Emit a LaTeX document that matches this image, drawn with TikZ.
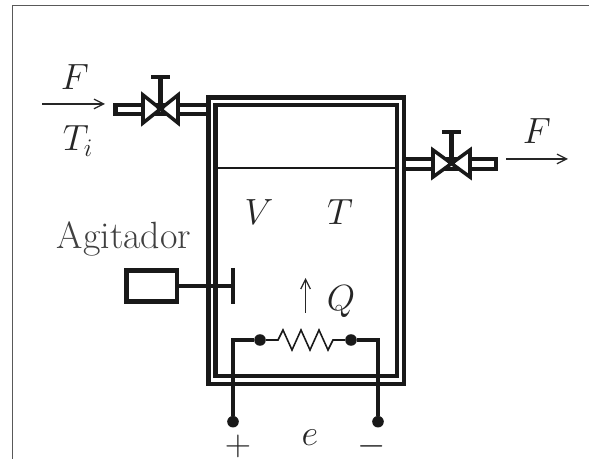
\documentclass[tikz,border=0pt]{standalone}
\usepackage{amsmath}
\usetikzlibrary{arrows.meta}

\tikzstyle{frameline}=[draw=black!65,line width=0.85pt]
\tikzstyle{wall}=[draw=black!90,line width=2.8pt,miter limit=10]
\tikzstyle{pipe}=[draw=black!90,line width=2.6pt]
\tikzstyle{valveside}=[draw=black!90,fill=white,line width=2pt,line join=miter]
\tikzstyle{wire}=[draw=black!90,line width=2.6pt]
\tikzstyle{thinline}=[draw=black!90,line width=0.9pt]
\tikzstyle{flow}=[draw=black!85,line width=0.7pt,-{Straight Barb[length=5.5pt,width=5.5pt]}]
\tikzstyle{dot}=[fill=black!90,circle,inner sep=0pt,minimum size=6.6pt]
\tikzstyle{smalldot}=[fill=black!90,circle,inner sep=0pt,minimum size=5pt]
\tikzstyle{lbl}=[inner sep=0pt,font=\fontsize{19.5}{22}\selectfont,text=black!85]
\tikzstyle{biglbl}=[inner sep=0pt,font=\fontsize{21.6}{24}\selectfont,text=black!75]

\begin{document}
\begin{tikzpicture}[x=0.02cm,y=-0.02cm]
\useasboundingbox (0,0) rectangle (589,459);

% picture frame
\coordinate (frame-sw) at (12.7,459);
\coordinate (frame-nw) at (12.7,5.7);
\coordinate (frame-ne) at (589,5.7);
\draw[frameline] (frame-sw) -- (frame-nw) -- (frame-ne);

% tank
\coordinate (outer-nw) at (208.5,97.5);
\coordinate (outer-se) at (404,384);
\coordinate (inner-nw) at (215.5,105);
\coordinate (inner-se) at (397,376);
\draw[wall] (outer-nw) rectangle (outer-se);
\draw[wall] (inner-nw) rectangle (inner-se);

% liquid level
\coordinate (level-l) at (217,168);
\coordinate (level-r) at (395,168);
\draw[thinline] (level-l) -- (level-r);

% inlet pipe
\coordinate (in-a) at (206,105);
\coordinate (in-b) at (115.5,105);
\coordinate (in-c) at (115.5,114);
\coordinate (in-d) at (206,114);
\draw[pipe] (in-a) -- (in-b) -- (in-c) -- (in-d);

% outlet pipe
\coordinate (out-a) at (406,159);
\coordinate (out-b) at (496,159);
\coordinate (out-c) at (496,169);
\coordinate (out-d) at (406,169);
\draw[pipe] (out-a) -- (out-b) -- (out-c) -- (out-d);

% inlet valve
\coordinate (vin-c) at (160.5,109);
\coordinate (vin-lt) at (143,95);
\coordinate (vin-lb) at (143,123);
\coordinate (vin-rt) at (178,95);
\coordinate (vin-rb) at (178,123);
\coordinate (vin-top) at (160.5,77);
\coordinate (vin-capl) at (151,77);
\coordinate (vin-capr) at (170,77);
\draw[valveside] (vin-c) -- (vin-lt) -- (vin-lb) -- cycle;
\draw[valveside] (vin-c) -- (vin-rt) -- (vin-rb) -- cycle;
\draw[pipe] (vin-c) -- (vin-top);
\draw[pipe] (vin-capl) -- (vin-capr);
\node[smalldot] (vin-dot) at (160.5,107) {};

% outlet valve
\coordinate (vout-c) at (451.5,163.5);
\coordinate (vout-lt) at (433,150);
\coordinate (vout-lb) at (433,177);
\coordinate (vout-rt) at (470,150);
\coordinate (vout-rb) at (470,177);
\coordinate (vout-top) at (451.5,132);
\coordinate (vout-capl) at (442,132);
\coordinate (vout-capr) at (461,132);
\draw[valveside] (vout-c) -- (vout-lt) -- (vout-lb) -- cycle;
\draw[valveside] (vout-c) -- (vout-rt) -- (vout-rb) -- cycle;
\draw[pipe] (vout-c) -- (vout-top);
\draw[pipe] (vout-capl) -- (vout-capr);
\node[smalldot] (vout-dot) at (451.5,161) {};

% flow arrows
\coordinate (fin-a) at (42,104);
\coordinate (fin-b) at (105,104);
\coordinate (fout-a) at (506,159);
\coordinate (fout-b) at (568,159);
\draw[flow] (fin-a) -- (fin-b);
\draw[flow] (fout-a) -- (fout-b);

% agitator
\coordinate (motor-nw) at (126.5,270.5);
\coordinate (motor-se) at (177,301.5);
\coordinate (shaft-a) at (177,286);
\coordinate (shaft-b) at (233,286);
\coordinate (paddle-t) at (233,268);
\coordinate (paddle-b) at (233,304);
\draw[wire] (motor-nw) rectangle (motor-se);
\draw[wire] (shaft-a) -- (shaft-b);
\draw[wire] (paddle-t) -- (paddle-b);

% heater
\node[dot] (res-l) at (260,340) {};
\node[dot] (res-r) at (351,340) {};
\node[dot] (term-l) at (233,421.7) {};
\node[dot] (term-r) at (378,421.7) {};
\coordinate (corner-l) at (233,340);
\coordinate (corner-r) at (378,340);
\draw[wire] (res-l) -- (corner-l) -- (term-l);
\draw[wire] (res-r) -- (corner-r) -- (term-r);
\draw[thinline] (res-l) -- (278,340) -- (283,330) -- (292,350) -- (301,330) -- (310,350)
  -- (319,330) -- (328,350) -- (333,340) -- (res-r);

% heat arrow
\coordinate (heat-a) at (305.5,313);
\coordinate (heat-b) at (305.5,278);
\draw[flow] (heat-a) -- (heat-b);

% labels
\node[lbl] (lbl-fin) at (75,77) {$F$};
\node[lbl] (lbl-ti) at (78,141) {$T_i$};
\node[lbl] (lbl-fout) at (537,131) {$F$};
\node[lbl] (lbl-v) at (259,212) {$V$};
\node[lbl] (lbl-t) at (340,212) {$T$};
\node[lbl] (lbl-q) at (341,302) {$Q$};
\node[biglbl] (lbl-agit) at (124,239) {Agitador};
\node[lbl] (lbl-e) at (310,438) {$e$};
\node[lbl] (lbl-plus) at (238,446.5) {$+$};
\node[lbl] (lbl-minus) at (372,446.5) {$-$};

\end{tikzpicture}
\end{document}
